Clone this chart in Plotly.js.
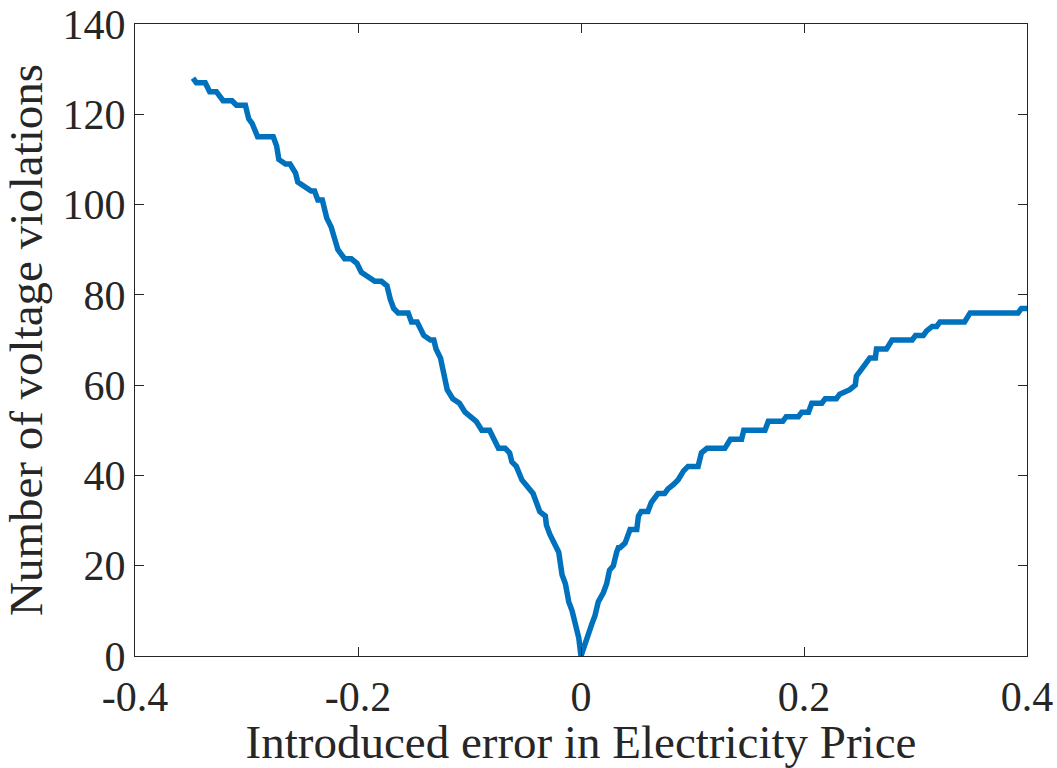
<!DOCTYPE html>
<html>
<head>
<meta charset="utf-8">
<script src="https://cdn.plot.ly/plotly-3.0.1.min.js"></script>
<style>
  html, body { margin: 0; padding: 0; background: #ffffff; }
  #chart { width: 1057px; height: 768px; }
</style>
</head>
<body>
<div id="chart"></div>
<script>
// Introduced price error (fraction) and resulting count of voltage violations
const priceError = [
  -0.348, -0.345, -0.337, -0.333, -0.327, -0.321, -0.313, -0.309, -0.301, -0.298,
  -0.295, -0.290, -0.276, -0.273, -0.271, -0.265, -0.261, -0.256, -0.254, -0.248,
  -0.242, -0.239, -0.236, -0.232, -0.228, -0.224, -0.221, -0.218, -0.212, -0.206,
  -0.201, -0.197, -0.191, -0.185, -0.179, -0.174, -0.171, -0.168, -0.164, -0.155,
  -0.152, -0.147, -0.141, -0.135, -0.132, -0.130, -0.126, -0.122, -0.120, -0.115,
  -0.109, -0.104, -0.098, -0.094, -0.089, -0.082, -0.078, -0.074, -0.068, -0.064,
  -0.062, -0.058, -0.053, -0.047, -0.043, -0.040, -0.037, -0.032, -0.031, -0.028,
  -0.023, -0.020, -0.017, -0.014, -0.011, -0.008, -0.005, -0.002, 0.000,
  0.005, 0.0096, 0.0126, 0.0155, 0.020, 0.023, 0.0256, 0.029, 0.032, 0.0335,
  0.035, 0.0395, 0.0425, 0.044, 0.050, 0.0515, 0.054, 0.060, 0.063, 0.066,
  0.069, 0.075, 0.078, 0.083, 0.087, 0.092, 0.096, 0.105, 0.108, 0.113,
  0.129, 0.134, 0.144, 0.146, 0.165, 0.168, 0.181, 0.184, 0.195, 0.198,
  0.204, 0.207, 0.216, 0.219, 0.229, 0.232, 0.237, 0.241, 0.246, 0.247,
  0.253, 0.259, 0.264, 0.265, 0.274, 0.279, 0.297, 0.300, 0.307, 0.310,
  0.315, 0.319, 0.322, 0.344, 0.349, 0.392, 0.395, 0.400
];
const violations = [
  128, 127, 127, 125, 125, 123, 123, 122, 122, 119,
  118, 115, 115, 113, 110, 109, 109, 107, 105, 104,
  103, 103, 101, 101, 97, 95, 92, 90, 88, 88,
  87, 85, 84, 83, 83, 82, 79, 77, 76, 76,
  74, 74, 71, 70, 70, 68, 66, 62, 59, 57,
  56, 54, 53, 52, 50, 50, 48, 46, 46, 45,
  43, 42, 39, 37, 36, 34, 32, 31, 29, 27,
  24, 23, 18, 16, 12, 10, 7, 4, 0,
  4, 7, 9, 12, 14, 16, 19, 20, 23, 24,
  24, 25, 27, 28, 28, 31, 32, 32, 34, 35,
  36, 36, 37, 38, 39, 41, 42, 42, 45, 46,
  46, 48, 48, 50, 50, 52, 52, 53, 53, 54,
  54, 56, 56, 57, 57, 58, 58.6, 59, 60, 62,
  64, 66, 66, 68, 68, 70, 70, 71, 71, 72,
  73, 73, 74, 74, 76, 76, 77, 77
];

const xTicks = [-0.4, -0.2, 0, 0.2, 0.4];
const xTickText = ['-0.4', '-0.2', '0', '0.2', '0.4'];
const yTicks = [0, 20, 40, 60, 80, 100, 120, 140];

const axisColor = '#262626';
const fontFamily = '"Liberation Serif", "Times New Roman", serif';

const trace = {
  x: priceError,
  y: violations,
  type: 'scatter',
  mode: 'lines',
  line: { color: '#0072BD', width: 5.5 },
  hoverinfo: 'x+y'
};

const layout = {
  width: 1057,
  height: 768,
  margin: { l: 135, r: 30, t: 24, b: 112 },
  paper_bgcolor: '#ffffff',
  plot_bgcolor: '#ffffff',
  showlegend: false,
  font: { family: fontFamily, color: axisColor, size: 42 },
  xaxis: {
    range: [-0.4, 0.4],
    tickvals: xTicks,
    ticktext: xTickText,
    ticks: 'inside',
    ticklen: 9,
    tickwidth: 1,
    tickcolor: axisColor,
    showline: true,
    linecolor: axisColor,
    linewidth: 1,
    mirror: 'ticks',
    showgrid: false,
    zeroline: false,
    ticklabelstandoff: 4,
    tickfont: { family: fontFamily, size: 42, color: axisColor },
    title: {
      text: 'Introduced error in Electricity Price',
      font: { family: fontFamily, size: 47, color: axisColor },
      standoff: 2
    }
  },
  yaxis: {
    range: [0, 140],
    tickvals: yTicks,
    ticks: 'inside',
    ticklen: 9,
    tickwidth: 1,
    tickcolor: axisColor,
    showline: true,
    linecolor: axisColor,
    linewidth: 1,
    mirror: 'ticks',
    showgrid: false,
    zeroline: false,
    tickfont: { family: fontFamily, size: 42, color: axisColor },
    title: {
      text: 'Number of voltage violations',
      font: { family: fontFamily, size: 47, color: axisColor },
      standoff: 8
    }
  }
};

Plotly.newPlot('chart', [trace], layout, { displayModeBar: false, staticPlot: true });
</script>
</body>
</html>
